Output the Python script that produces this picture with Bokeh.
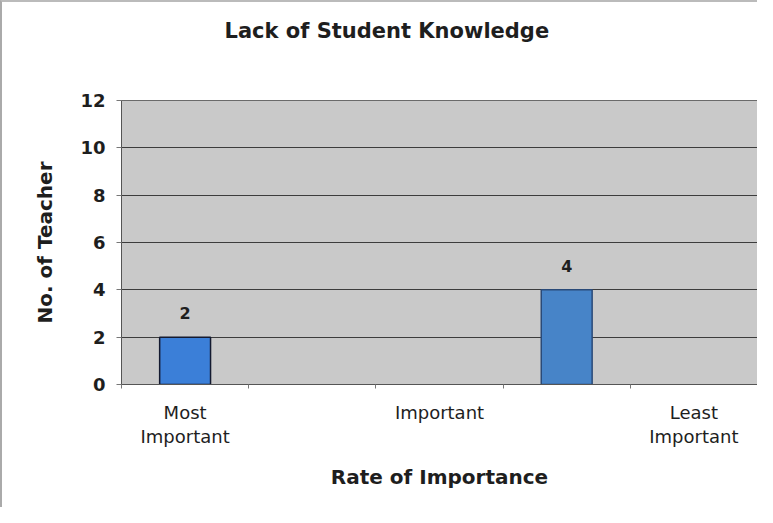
from bokeh.plotting import figure
from bokeh.models import FixedTicker, ColumnDataSource, Title
from bokeh.core.properties import value
from bokeh.embed import file_html
from bokeh.resources import INLINE

# data
positions = [1, 2, 3, 4, 5]
tick_labels = ["Most\nImportant", "", "Important", "", "Least\nImportant"]
values = [2, 0, 0, 4, 0]
y_ticks = [0, 2, 4, 6, 8, 10, 12]
title_text = "Lack of Student Knowledge"
x_title = "Rate of Importance"
y_title = "No. of Teacher"

# styles
bar_colors = ["#3b7fd8", "#3b7fd8", "#3b7fd8", "#4784c8", "#4784c8"]
bar_lines = ["#141a30", "#141a30", "#141a30", "#2a4a78", "#2a4a78"]
FONT = "DejaVu Sans"
INK = "#1e1e1e"

xs = [x for x, v in zip(positions, values) if v != 0]
vs = [v for v in values if v != 0]
cs = [c for c, v in zip(bar_colors, values) if v != 0]
ls = [c for c, v in zip(bar_lines, values) if v != 0]
src = ColumnDataSource(dict(x=xs, top=vs, color=cs, line=ls, label=[str(v) for v in vs]))

p = figure(width=757, height=507, output_backend="svg", toolbar_location=None,
           title=None, x_range=(0.5, 5.5), y_range=(0, 12),
           min_border_left=119, min_border_right=2, min_border_top=98, min_border_bottom=125)

# spacer panel next to the frame, then the real title above it
p.add_layout(Title(text=" ", text_font_size="1px", standoff=55), "above")
p.add_layout(Title(text=title_text, align="left", offset=103, standoff=0,
                   text_font=FONT, text_font_size="21px", text_font_style="bold",
                   text_color=INK), "above")

p.background_fill_color = "#c9c9c9"
p.border_fill_color = "white"
p.outline_line_color = "#6a6a6a"
p.outline_line_width = 1

p.vbar(x="x", top="top", width=0.4, fill_color="color", line_color="line",
       line_width=1.5, source=src)
p.text(x="x", y="top", text="label", source=src, text_align="center",
       text_baseline="alphabetic", y_offset=-24, text_font=value(FONT),
       text_font_size="16px", text_font_style="bold", text_color=INK)

p.xgrid.visible = False
p.ygrid.ticker = FixedTicker(ticks=y_ticks)
p.ygrid.grid_line_color = "#3c3c3c"
p.ygrid.grid_line_width = 1

xa = p.xaxis[0]
xa.ticker = FixedTicker(ticks=positions, minor_ticks=[0.5, 1.5, 2.5, 3.5, 4.5, 5.5])
xa.major_label_overrides = {pp: lab for pp, lab in zip(positions, tick_labels)}
xa.major_tick_out = 0
xa.major_tick_in = 0
xa.minor_tick_out = 4
xa.minor_tick_in = 0
xa.minor_tick_line_color = "#777777"
xa.axis_line_color = "#555555"
xa.major_label_text_font = FONT
xa.major_label_text_font_size = "18px"
xa.major_label_text_color = INK
xa.major_label_text_line_height = 1.15
xa.major_label_standoff = 13
xa.axis_label = x_title
xa.axis_label_text_font = FONT
xa.axis_label_text_font_size = "20px"
xa.axis_label_text_font_style = "bold"
xa.axis_label_text_color = INK
xa.axis_label_standoff = 15

ya = p.yaxis[0]
ya.ticker = FixedTicker(ticks=y_ticks)
ya.major_tick_out = 5
ya.major_tick_in = 0
ya.minor_tick_out = 0
ya.major_tick_line_color = "#777777"
ya.axis_line_color = "#555555"
ya.major_label_text_font = FONT
ya.major_label_text_font_size = "18px"
ya.major_label_text_font_style = "bold"
ya.major_label_text_color = INK
ya.major_label_standoff = 11
ya.axis_label = y_title
ya.axis_label_text_font = FONT
ya.axis_label_text_font_size = "20px"
ya.axis_label_text_font_style = "bold"
ya.axis_label_text_color = INK
ya.axis_label_standoff = 20

p.styles = {"border-left": "2px solid #aaaaaa", "border-top": "2px solid #bbbbbb"}

open("out.html", "w").write(file_html(p, INLINE))
